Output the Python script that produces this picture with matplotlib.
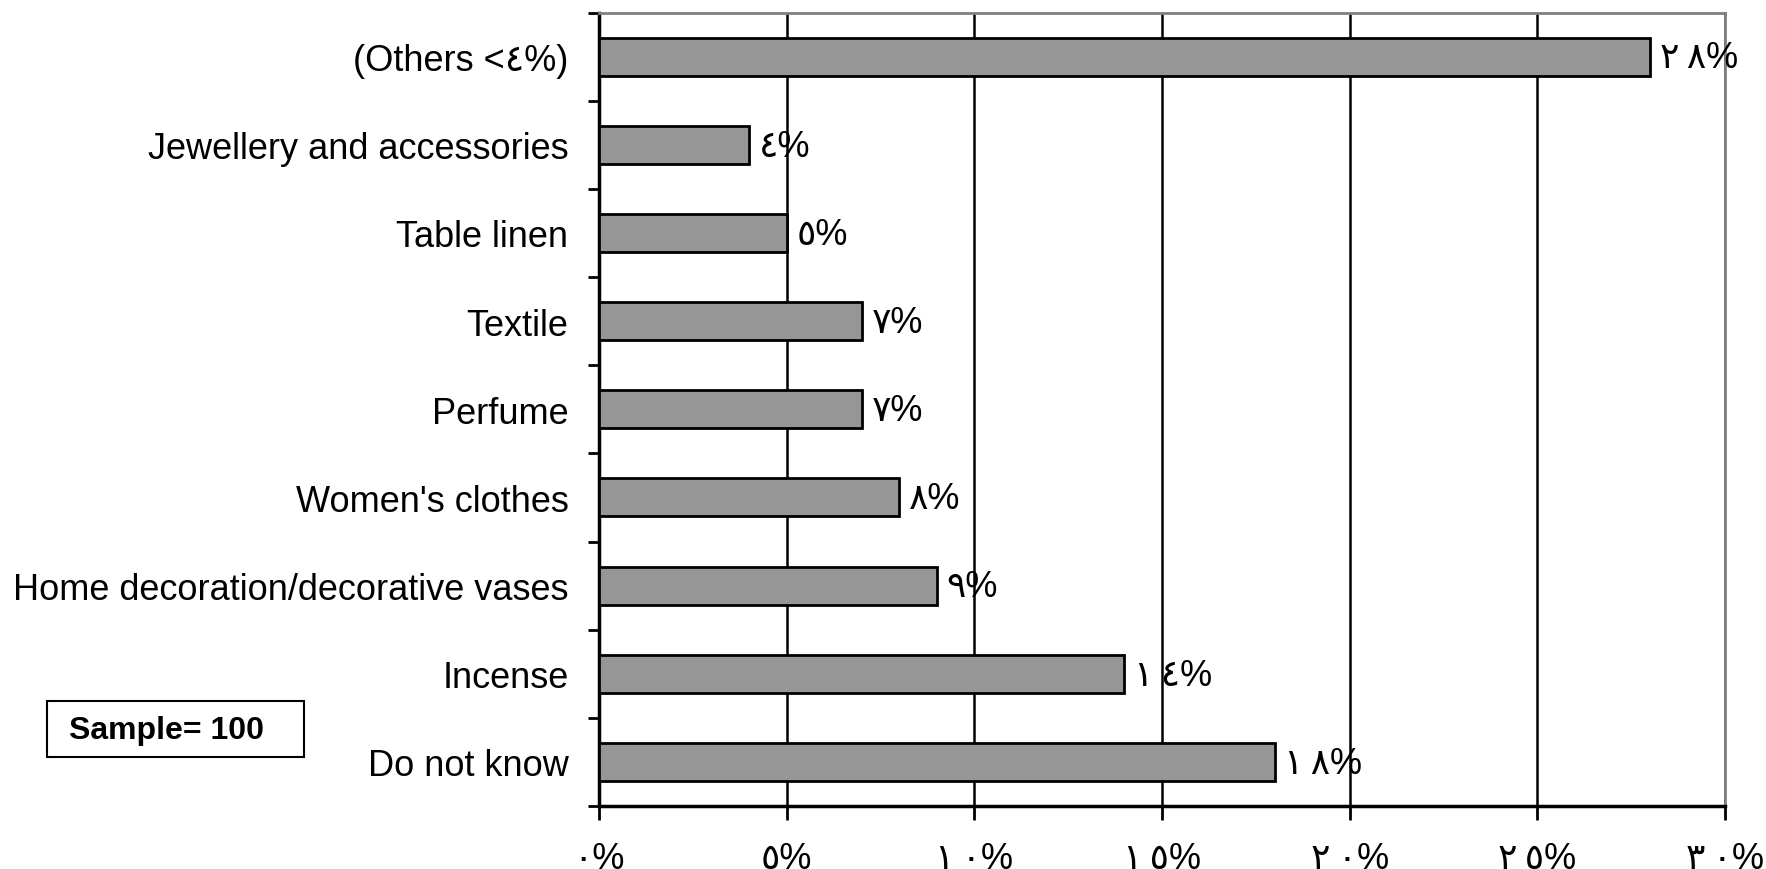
import matplotlib
matplotlib.use("Agg")
import matplotlib.pyplot as plt
from matplotlib.ticker import FixedLocator
from matplotlib.patches import Rectangle

categories = ["Do not know", "Incense", "Home decoration/decorative vases",
              "Women's clothes", "Perfume", "Textile", "Table linen",
              "Jewellery and accessories", "(Others <\u0664%)"]
values = [18, 14, 9, 8, 7, 7, 5, 4, 28]
xticks = [0, 5, 10, 15, 20, 25, 30]

AR = str.maketrans("0123456789", "\u0660\u0661\u0662\u0663\u0664\u0665\u0666\u0667\u0668\u0669")
def ar(n):
    return "\u2009".join(str(n).translate(AR)) + "%"

fam = ["Liberation Sans Narrow", "Liberation Sans", "DejaVu Sans"]
plt.rcParams["font.family"] = fam

fig = plt.figure(figsize=(17.66, 8.70), dpi=100)
ax = fig.add_axes([599/1766, 1-807/870, (1725-599)/1766, (807-13.5)/870])

y = list(range(len(categories)))
ax.barh(y, values, height=0.43, color="#969696", edgecolor="black", linewidth=2, zorder=3)
ax.set_xlim(0, 30)
ax.set_ylim(-0.5, len(categories)-0.5)

ax.set_xticks(xticks)
ax.set_xticklabels([ar(v) for v in xticks], fontsize=26)
ax.tick_params(axis="x", direction="out", length=10, width=2, pad=15)
ax.xaxis.grid(True, color="black", linewidth=1.8, zorder=0)

ax.set_yticks(y)
ax.set_yticklabels(categories, fontsize=26)
ax.tick_params(axis="y", which="major", length=0, pad=22)
ax.yaxis.set_minor_locator(FixedLocator([i - 0.5 for i in range(len(categories)+1)]))
ax.tick_params(axis="y", which="minor", direction="out", length=8, width=2)

for s in ["left", "bottom"]:
    ax.spines[s].set_color("black")
    ax.spines[s].set_linewidth(2.5)
for s in ["top", "right"]:
    ax.spines[s].set_color("#808080")
    ax.spines[s].set_linewidth(2)

for yi, v in zip(y, values):
    ax.annotate(ar(v), xy=(v, yi), xytext=(7, -1), textcoords="offset points",
                va="center", ha="left", fontsize=26, zorder=4)

fig.patches.append(Rectangle((47/1766, 1-758/870), (304-47)/1766, (758-702)/870,
                             transform=fig.transFigure, facecolor="white",
                             edgecolor="black", linewidth=1.5))
fig.text(69/1766, 1-731/870, "Sample= 100", fontsize=23, fontweight="bold",
         ha="left", va="center")

fig.savefig("out.png", dpi=100)
